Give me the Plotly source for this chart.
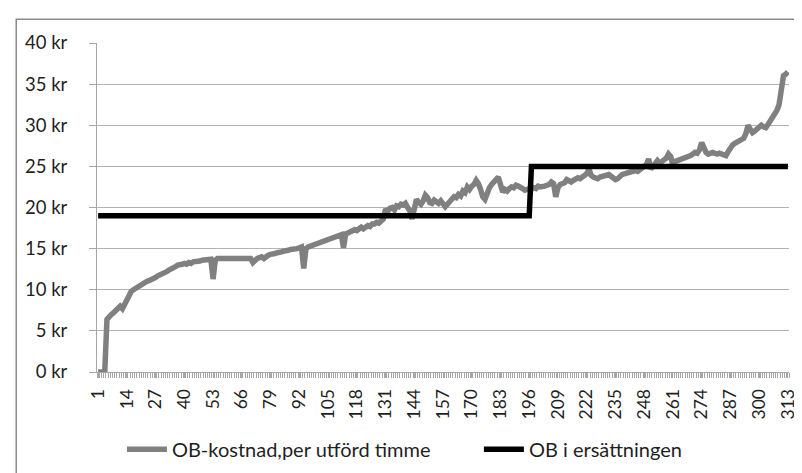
import plotly.graph_objects as go

categories = list(range(1, 314))

ob_kostnad = [
    0, 0, 0, 0, 6.4, 6.8, 7.0, 7.2, 7.5, 7.8,
    8.0, 7.7, 8.3, 9.0, 9.5, 9.8, 10.0, 10.2, 10.4, 10.5,
    10.7, 10.8, 11.0, 11.1, 11.2, 11.4, 11.5, 11.7, 11.8, 12.0,
    12.1, 12.2, 12.4, 12.5, 12.7, 12.8, 13.0, 13.0, 13.1, 13.2,
    13.1, 13.3, 13.2, 13.4, 13.4, 13.5, 13.5, 13.6, 13.6, 13.7,
    13.7, 13.7, 11.3, 13.6, 13.8, 13.8, 13.8, 13.8, 13.8, 13.8,
    13.8, 13.8, 13.8, 13.8, 13.8, 13.8, 13.8, 13.8, 13.8, 13.8,
    13.3, 13.6, 13.8, 13.9, 14.0, 13.8, 14.1, 14.2, 14.3, 14.3,
    14.4, 14.5, 14.5, 14.6, 14.7, 14.7, 14.8, 14.9, 14.9, 15.0,
    15.0, 15.1, 15.2, 12.6, 15.0, 15.2, 15.3, 15.4, 15.5, 15.6,
    15.6, 15.8, 15.9, 16.0, 16.1, 16.2, 16.3, 16.4, 16.5, 16.6,
    16.7, 15.1, 16.8, 16.9, 17.0, 17.1, 17.3, 17.2, 17.5, 17.6,
    17.4, 17.7, 17.8, 17.7, 18.0, 18.0, 18.2, 18.1, 18.4, 18.6,
    19.8, 19.5, 19.9, 20.0, 19.7, 20.2, 20.1, 20.4, 20.3, 20.5,
    20.0, 19.6, 18.6, 20.3, 21.0, 20.6, 20.4, 20.8, 21.5, 21.2,
    20.6, 20.5, 20.9, 20.7, 20.5, 20.8, 20.4, 20.1, 20.4, 20.8,
    21.0, 21.3, 21.2, 21.6, 21.4, 22.0, 21.8, 22.5, 22.2, 22.6,
    22.8, 23.3, 22.9, 22.2, 21.3, 21.0, 22.0, 22.4, 22.8, 23.0,
    23.4, 23.7, 22.5, 21.9, 22.2, 22.0, 22.3, 22.5, 22.4, 22.7,
    22.6, 22.5, 22.3, 22.1, 22.2, 22.3, 22.2, 22.4, 22.3, 22.6,
    22.5, 22.5, 22.6, 22.7, 22.8, 23.1, 22.9, 21.3, 22.4, 22.8,
    22.9, 23.0, 23.4, 23.2, 23.1, 23.3, 23.4, 23.6, 23.5, 23.7,
    23.8, 24.1, 24.7, 23.9, 23.7, 23.6, 23.5, 23.7, 23.8, 23.9,
    23.9, 24.0, 23.8, 23.6, 23.4, 23.5, 23.8, 24.0, 24.1, 24.2,
    24.2, 24.3, 24.4, 24.5, 24.4, 24.6, 24.8, 24.9, 25.2, 25.9,
    24.7, 25.0, 25.3, 25.7, 25.4, 25.6, 25.8, 26.0, 26.5, 26.2,
    25.1, 25.6, 25.7, 25.8, 25.9, 25.9, 26.0, 26.1, 26.3, 26.5,
    26.7, 26.6, 27.0, 27.9, 27.2, 26.7, 26.5, 26.6, 26.7, 26.6,
    26.5, 26.6, 26.5, 26.5, 26.3, 26.8, 27.3, 27.6, 27.8, 28.0,
    28.1, 28.2, 28.4, 29.0, 30.0, 29.5, 29.1, 29.3, 29.6, 29.8,
    30.0, 29.8, 29.7, 30.1, 30.5, 30.9, 31.4, 31.8, 32.5, 34.6,
    36.0, 36.2, 36.5,
]

ob_ersattning = [19.0] * 196 + [25.0] * 117

x_tick_labels = [str(c) for c in categories if (c - 1) % 13 == 0]
y_tick_values = [0, 5, 10, 15, 20, 25, 30, 35, 40]

FONT = "Lato"
TXT = "#1f1f1f"

fig = go.Figure()
fig.add_trace(go.Scatter(
    x=categories, y=ob_kostnad, mode="lines",
    name="OB-kostnad,per utförd timme",
    line=dict(color="#808080", width=5.5),
    legend="legend",
))
fig.add_trace(go.Scatter(
    x=categories, y=ob_ersattning, mode="lines",
    name="OB i ersättningen",
    line=dict(color="#000000", width=5.5),
    legend="legend2",
))

legend_common = dict(orientation="h", yanchor="middle", xanchor="left",
                     font=dict(family=FONT, size=20, color=TXT), itemwidth=40,
                     bgcolor="rgba(0,0,0,0)")

fig.update_layout(
    width=802, height=473,
    margin=dict(l=89, r=19, t=35, b=107),
    paper_bgcolor="white", plot_bgcolor="white",
    font=dict(family=FONT, size=17, color=TXT),
    showlegend=True,
    legend=dict(x=(114 - 89) / 694, y=-0.235, **legend_common),
    legend2=dict(x=(472 - 89) / 694, y=-0.235, **legend_common),
    shapes=[dict(type="rect", xref="paper", yref="paper",
                 x0=(8 - 89) / 694, x1=(798 - 89) / 694,
                 y0=(366 - 470) / 331, y1=(366 - 11) / 331,
                 line=dict(color="#8c8c8c", width=1.5), layer="below")],
)

fig.update_xaxes(
    range=[0.5, 313.5],
    tickmode="array",
    tickvals=[int(t) for t in x_tick_labels],
    ticktext=x_tick_labels,
    tickangle=-90,
    ticks="outside", ticklen=5, tickcolor="#a6a6a6",
    ticklabelstandoff=4,
    tickfont=dict(family=FONT, size=17.5, color=TXT),
    showgrid=False, zeroline=False,
    showline=True, linecolor="#a6a6a6", linewidth=1,
    minor=dict(ticks="outside", ticklen=5, tickcolor="#a6a6a6", dtick=1, tick0=0.5, showgrid=False),
)
fig.update_yaxes(
    range=[0, 40],
    tickmode="array",
    tickvals=y_tick_values,
    ticktext=[f"{v} kr" for v in y_tick_values],
    ticks="outside", ticklen=7, tickcolor="#a6a6a6",
    ticklabelstandoff=18,
    tickfont=dict(family=FONT, size=18.5, color=TXT),
    showgrid=True, gridcolor="#b3b3b3", gridwidth=1,
    zeroline=False,
    showline=True, linecolor="#a6a6a6", linewidth=1,
)

fig.write_html("out.html")
